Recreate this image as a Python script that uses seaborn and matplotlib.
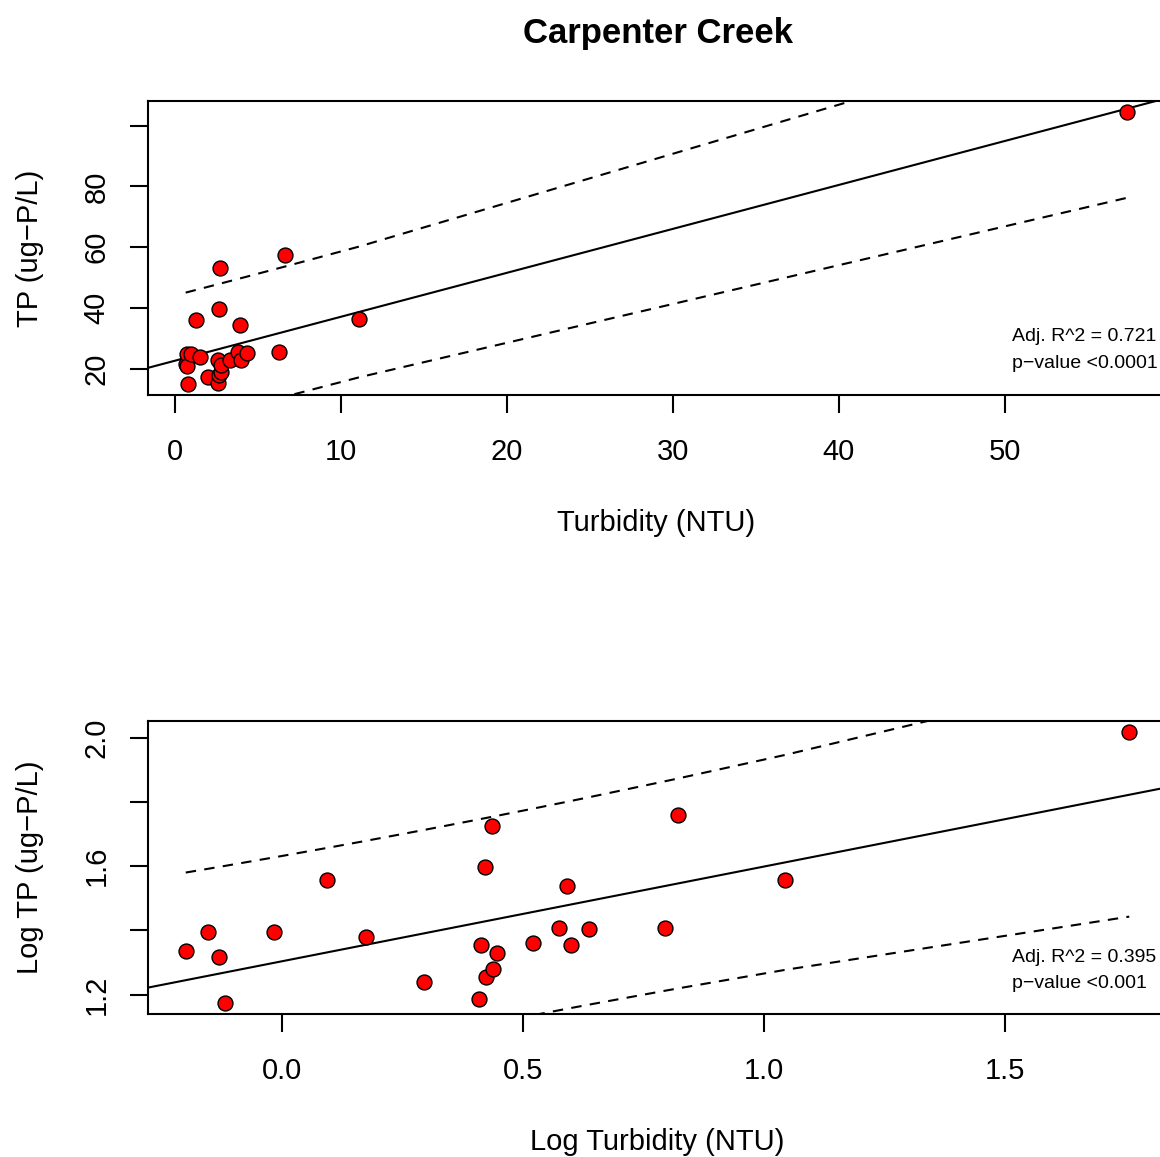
import numpy as np
import pandas as pd
import matplotlib
matplotlib.use("Agg")
import matplotlib.pyplot as plt
import seaborn as sns

# Carpenter Creek samples: turbidity (NTU) and total phosphorus (ug-P/L)
turbidity = [0.63, 0.70, 0.74, 0.76, 0.96, 1.24, 1.49, 1.97, 2.56, 2.59, 2.64, 2.65,
             2.72, 2.74, 2.79, 3.32, 3.76, 3.90, 3.98, 4.34, 6.24, 6.64, 11.07, 57.4]
tp = [21.6, 24.9, 20.8, 14.9, 24.9, 36.0, 23.9, 17.3, 15.4, 22.7, 39.5, 18.0,
      53.1, 19.0, 21.3, 22.9, 25.5, 34.5, 22.7, 25.3, 25.5, 57.4, 36.2, 104.5]

top_xticks = [0, 10, 20, 30, 40, 50]
top_yticks = [20, 40, 60, 80, 100]
top_yticklabels = ["20", "40", "60", "80", ""]
bot_xticks = [0.0, 0.5, 1.0, 1.5]
bot_xticklabels = ["0.0", "0.5", "1.0", "1.5"]
bot_yticks = [1.2, 1.4, 1.6, 1.8, 2.0]
bot_yticklabels = ["1.2", "", "1.6", "", "2.0"]

stats_raw = ["Adj. R^2 = 0.721", "p\u2212value <0.0001"]
stats_log = ["Adj. R^2 = 0.395", "p\u2212value <0.001"]

T_CRIT = 2.0739  # t(0.975, df = 22)

df = pd.DataFrame({"turb": turbidity, "tp": tp})
df["log_turb"] = np.log10(df["turb"])
df["log_tp"] = np.log10(df["tp"])

sns.set_style("ticks")
plt.rcParams["font.family"] = ["Liberation Sans", "DejaVu Sans"]
plt.rcParams["text.color"] = "black"
plt.rcParams["axes.labelcolor"] = "black"

W, H = 1160, 1157
fig = plt.figure(figsize=(W / 100, H / 100), dpi=100)


def px_axes(x0, y0, x1, y1):
    return fig.add_axes([x0 / W, 1 - y1 / H, (x1 - x0) / W, (y1 - y0) / H])


def r_limits(v):
    lo, hi = float(np.min(v)), float(np.max(v))
    pad = 0.04 * (hi - lo)
    return lo - pad, hi + pad


def panel(ax, xcol, ycol, xticks, xticklabels, yticks, yticklabels, xlabel, ylabel,
          stats, stats_y):
    x = df[xcol].to_numpy()
    y = df[ycol].to_numpy()
    xlim = r_limits(x)
    ylim = r_limits(y)

    # least squares fit and 95% prediction interval
    n = len(x)
    slope, intercept = np.polyfit(x, y, 1)
    resid = y - (intercept + slope * x)
    s = np.sqrt(np.sum(resid ** 2) / (n - 2))
    xm = x.mean()
    sxx = np.sum((x - xm) ** 2)
    xs = np.sort(x)
    fit_s = intercept + slope * xs
    half = T_CRIT * s * np.sqrt(1 + 1 / n + (xs - xm) ** 2 / sxx)

    xline = np.array([xlim[0] - 1, xlim[1] + 1])
    ax.plot(xline, intercept + slope * xline, color="black", lw=1.5, zorder=2)
    ax.plot(xs, fit_s + half, color="black", lw=1.5, ls=(0, (5, 4)), zorder=2)
    ax.plot(xs, fit_s - half, color="black", lw=1.5, ls=(0, (5, 4)), zorder=2)

    sns.scatterplot(data=df, x=xcol, y=ycol, ax=ax, color="red", edgecolor="black",
                    linewidth=1.0, s=115, zorder=3, legend=False)

    ax.set_xlim(*xlim)
    ax.set_ylim(*ylim)
    ax.set_xticks(xticks)
    ax.set_xticklabels(xticklabels)
    ax.set_yticks(yticks)
    ax.set_yticklabels(yticklabels, rotation=90, va="center")
    ax.tick_params(axis="both", direction="out", length=13, width=1.5, labelsize=21,
                   color="black", labelcolor="black")
    ax.tick_params(axis="x", pad=18)
    ax.tick_params(axis="y", pad=14)
    for sp in ax.spines.values():
        sp.set_visible(True)
        sp.set_linewidth(1.5)
        sp.set_color("black")
    ax.set_xlabel(xlabel, fontsize=21, labelpad=31)
    ax.set_ylabel(ylabel, fontsize=21, labelpad=28)
    for txt, yy in zip(stats, stats_y):
        fig.text(1012 / W, 1 - yy / H, txt, fontsize=14, va="center", ha="left")


ax1 = px_axes(148, 101, 1165, 395)
panel(ax1, "turb", "tp", top_xticks, [str(t) for t in top_xticks], top_yticks, top_yticklabels,
      "Turbidity (NTU)", "TP (ug\u2212P/L)", stats_raw, [337, 364])

ax2 = px_axes(148, 721, 1167, 1014)
panel(ax2, "log_turb", "log_tp", bot_xticks, bot_xticklabels, bot_yticks, bot_yticklabels,
      "Log Turbidity (NTU)", "Log TP (ug\u2212P/L)", stats_log, [957, 984])

fig.text(658 / W, 1 - 33 / H, "Carpenter Creek", fontsize=25, fontweight="bold",
         ha="center", va="center")

fig.savefig("out.png", dpi=100)
